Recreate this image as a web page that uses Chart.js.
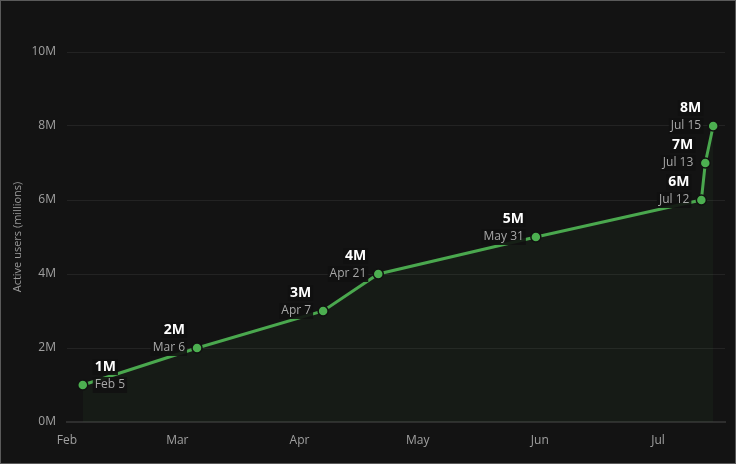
<!DOCTYPE html>
<html>
<head>
<meta charset="utf-8">
<script src="https://cdn.jsdelivr.net/npm/chart.js@4.4.0/dist/chart.umd.min.js"></script>
<style>
  html, body { margin: 0; padding: 0; background: #131313; }
  #wrap { width: 736px; height: 464px; }
</style>
</head>
<body>
<div id="wrap"><canvas id="myChart" width="736" height="464"></canvas></div>
<script>
// milestone data (users in millions)
const milestoneDates = ["2023-02-05", "2023-03-06", "2023-04-07", "2023-04-21", "2023-05-31", "2023-07-12", "2023-07-13", "2023-07-15"];
const dateLabels = ["Feb 5", "Mar 6", "Apr 7", "Apr 21", "May 31", "Jul 12", "Jul 13", "Jul 15"];
const activeUsers = [1, 2, 3, 4, 5, 6, 7, 8];

const monthStarts = ["2023-02-01", "2023-03-01", "2023-04-01", "2023-05-01", "2023-06-01", "2023-07-01"];
const monthNames = ["Feb", "Mar", "Apr", "May", "Jun", "Jul"];
const xEnd = "2023-07-18";

const yTicks = [0, 2, 4, 6, 8, 10];

function dayNum(s) {
  const p = s.split("-").map(Number);
  return Date.UTC(p[0], p[1] - 1, p[2]) / 86400000;
}

const points = milestoneDates.map((d, i) => ({ x: dayNum(d), y: activeUsers[i] }));
const monthDays = monthStarts.map(dayNum);

const bgPlugin = {
  id: "bg",
  beforeDraw(chart) {
    const ctx = chart.ctx;
    ctx.save();
    ctx.fillStyle = "#131313";
    ctx.fillRect(0, 0, chart.width, chart.height);
    ctx.strokeStyle = "#5a5a5a";
    ctx.lineWidth = 1;
    ctx.strokeRect(0.5, 0.5, chart.width - 1, chart.height - 1);
    ctx.restore();
  },
};

function boxText(ctx, text, x, y, align, color) {
  const w = ctx.measureText(text).width;
  const left = align === "left" ? x : x - w;
  ctx.fillStyle = "rgba(17,17,17,0.9)";
  ctx.fillRect(left - 2, y - 8, w + 4, 16);
  ctx.fillStyle = color;
  ctx.textAlign = "left";
  ctx.fillText(text, left, y);
}

const labelPlugin = {
  id: "milestoneLabels",
  afterDatasetsDraw(chart) {
    const ctx = chart.ctx;
    const meta = chart.getDatasetMeta(0);
    ctx.save();
    ctx.textBaseline = "middle";
    meta.data.forEach((pt, i) => {
      // first label sits to the right of its point, the rest to the left
      const side = i === 0 ? "left" : "right";
      const tx = i === 0 ? pt.x + 12 : pt.x - 12;
      ctx.font = "12px 'Open Sans', sans-serif";
      boxText(ctx, dateLabels[i], tx, pt.y, side, "#a8a8a8");
      ctx.font = "bold 14px 'Open Sans', sans-serif";
      boxText(ctx, activeUsers[i] + "M", tx, pt.y - 18, side, "#ffffff");
    });
    ctx.restore();
  },
};

new Chart(document.getElementById("myChart"), {
  type: "line",
  data: {
    datasets: [
      {
        data: points,
        borderColor: "#4aa84e",
        borderWidth: 3,
        backgroundColor: "rgba(76,175,80,0.05)",
        fill: "origin",
        tension: 0,
        pointRadius: 5,
        pointBackgroundColor: "#4caf50",
        pointBorderColor: "#111111",
        pointBorderWidth: 1.5,
      },
    ],
  },
  options: {
    responsive: false,
    animation: false,
    layout: { padding: { top: 52, right: 11, left: 0, bottom: 0 } },
    plugins: {
      legend: { display: false },
      tooltip: { enabled: false },
    },
    scales: {
      x: {
        type: "linear",
        min: monthDays[0],
        max: dayNum(xEnd),
        afterBuildTicks: (axis) => {
          axis.ticks = monthDays.map((v) => ({ value: v }));
        },
        afterFit: (axis) => {
          axis.height = 42;
        },
        ticks: {
          autoSkip: false,
          maxRotation: 0,
          padding: 11,
          color: "#a0a0a0",
          font: { family: "'Open Sans', sans-serif", size: 12 },
          callback: (v) => monthNames[monthDays.indexOf(v)],
        },
        grid: { display: false, drawTicks: false },
        border: { display: true, color: "#2e2e2e", width: 2 },
      },
      y: {
        min: 0,
        max: 10,
        afterBuildTicks: (axis) => {
          axis.ticks = yTicks.map((v) => ({ value: v }));
        },
        afterFit: (axis) => {
          axis.width = 67;
        },
        ticks: {
          padding: 11,
          color: "#a0a0a0",
          font: { family: "'Open Sans', sans-serif", size: 12 },
          callback: (v) => v + "M",
        },
        grid: { color: "#232323", drawTicks: false },
        border: { display: false },
        title: {
          display: true,
          text: "Active users (millions)",
          color: "#9a9a9a",
          font: { family: "'Open Sans', sans-serif", size: 11 },
          padding: { top: 11, bottom: 0 },
        },
      },
    },
  },
  plugins: [bgPlugin, labelPlugin],
});
</script>
</body>
</html>
